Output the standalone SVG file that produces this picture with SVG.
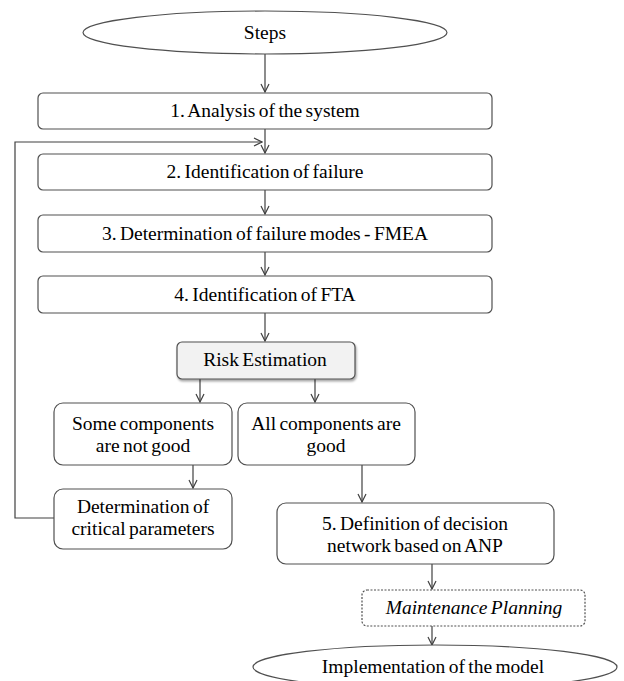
<svg xmlns="http://www.w3.org/2000/svg" width="624" height="681" viewBox="0 0 624 681">
<defs>
<marker id="arr" viewBox="0 0 10 10" refX="9" refY="5" markerWidth="10" markerHeight="10" markerUnits="userSpaceOnUse" orient="auto">
<path d="M1,1 L9,5 L1,9" fill="none" stroke="#404040" stroke-width="1.2"/>
</marker>
<filter id="sh" x="-10%" y="-10%" width="120%" height="130%">
<feDropShadow dx="1" dy="2" stdDeviation="1.2" flood-color="#000" flood-opacity="0.35"/>
</filter>
</defs>
<style>
.b{fill:#fff;stroke:#505050;stroke-width:1.2}
.t{font-family:'Liberation Serif','Times New Roman',serif;font-size:19.5px;fill:#000;text-anchor:middle;word-spacing:-1.5px}
.c{fill:none;stroke:#404040;stroke-width:1.2}
</style>
<rect width="624" height="681" fill="#fff"/>
<g id="connectors">
<line class="c" x1="265" y1="54" x2="265" y2="92" marker-end="url(#arr)"/>
<line class="c" x1="265" y1="129" x2="265" y2="153" marker-end="url(#arr)"/>
<polyline class="c" points="54,518 15,518 15,142 262,142" marker-end="url(#arr)"/>
<line class="c" x1="265" y1="190" x2="265" y2="214" marker-end="url(#arr)"/>
<line class="c" x1="265" y1="252" x2="265" y2="275" marker-end="url(#arr)"/>
<line class="c" x1="265" y1="313" x2="265" y2="341" marker-end="url(#arr)"/>
<line class="c" x1="200" y1="379" x2="200" y2="402" marker-end="url(#arr)"/>
<line class="c" x1="315" y1="379" x2="315" y2="402" marker-end="url(#arr)"/>
<line class="c" x1="193" y1="465" x2="193" y2="488" marker-end="url(#arr)"/>
<line class="c" x1="362" y1="465" x2="362" y2="502" marker-end="url(#arr)"/>
<line class="c" x1="432" y1="564" x2="432" y2="589" marker-end="url(#arr)"/>
<line class="c" x1="432" y1="626" x2="432" y2="645" marker-end="url(#arr)"/>
</g>
<g id="steps">
<ellipse class="b" cx="265" cy="32.5" rx="182" ry="21.5"/>
<text class="t" x="265" y="39">Steps</text>
</g>
<g id="n1">
<rect class="b" x="38" y="93" width="454" height="36" rx="5"/>
<text class="t" x="265" y="117">1. Analysis of the system</text>
</g>
<g id="n2">
<rect class="b" x="38" y="154" width="454" height="36" rx="5"/>
<text class="t" x="265" y="178">2. Identification of failure</text>
</g>
<g id="n3">
<rect class="b" x="38" y="215" width="454" height="37" rx="5"/>
<text class="t" x="265" y="240">3. Determination of failure modes - FMEA</text>
</g>
<g id="n4">
<rect class="b" x="38" y="276" width="454" height="37" rx="5"/>
<text class="t" x="265" y="301">4. Identification of  FTA</text>
</g>
<g id="risk">
<rect class="b" x="177" y="342" width="178" height="37" rx="5" style="fill:#f2f2f2" filter="url(#sh)"/>
<text class="t" x="265" y="366">Risk Estimation</text>
</g>
<g id="some">
<rect class="b" x="54" y="403" width="178" height="62" rx="9"/>
<text class="t" x="143" y="430">Some components</text>
<text class="t" x="143" y="452">are not good</text>
</g>
<g id="all">
<rect class="b" x="238" y="403" width="177" height="62" rx="9"/>
<text class="t" x="326" y="430">All components are</text>
<text class="t" x="326" y="452">good</text>
</g>
<g id="crit">
<rect class="b" x="54" y="489" width="178" height="60" rx="9"/>
<text class="t" x="143" y="513">Determination of</text>
<text class="t" x="143" y="535">critical parameters</text>
</g>
<g id="n5">
<rect class="b" x="277" y="503" width="277" height="61" rx="9"/>
<text class="t" x="415" y="530">5. Definition of  decision</text>
<text class="t" x="415" y="552">network based on ANP</text>
</g>
<g id="maint">
<rect class="b" x="362" y="590" width="223" height="36" rx="5" stroke-dasharray="2,1.5"/>
<text class="t" x="474" y="614" font-style="italic">Maintenance Planning</text>
</g>
<g id="impl">
<ellipse class="b" cx="435" cy="667" rx="182" ry="22"/>
<text class="t" x="433" y="673">Implementation of the model</text>
</g>
</svg>
